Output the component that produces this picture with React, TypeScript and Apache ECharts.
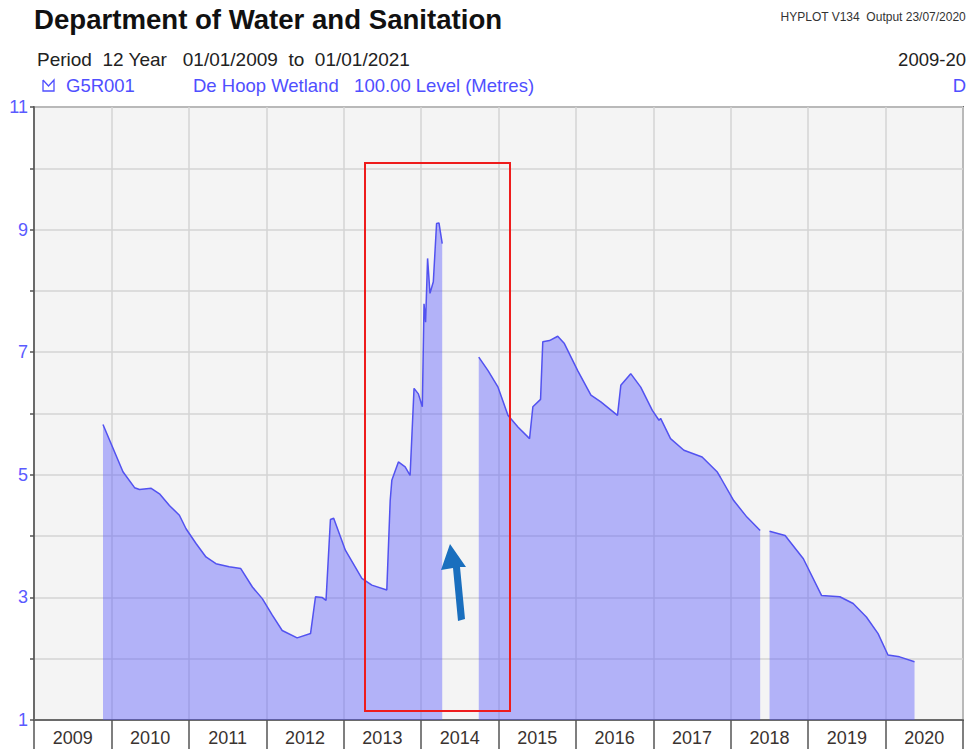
import React, { useEffect, useRef } from "react";
import * as echarts from "echarts";

// Fractional-year dates and water levels (metres); null marks a gap in the record
const dates: number[] = [
  2009.891, 2010.149, 2010.299, 2010.363, 2010.514, 2010.621, 2010.749, 2010.878, 2010.964,
  2011.093, 2011.221, 2011.350, 2011.521, 2011.671, 2011.821, 2011.949, 2012.078, 2012.206,
  2012.399, 2012.572, 2012.636, 2012.721, 2012.772, 2012.829, 2012.871, 2013.022, 2013.235,
  2013.364, 2013.557, 2013.601, 2013.622, 2013.707, 2013.794, 2013.858, 2013.909, 2013.965,
  2014.016, 2014.038, 2014.058, 2014.084, 2014.115, 2014.158, 2014.200, 2014.231, 2014.273,
  2014.5,
  2014.745, 2014.865, 2014.994, 2015.122, 2015.251, 2015.401, 2015.444, 2015.543, 2015.572,
  2015.659, 2015.765, 2015.851, 2016.023, 2016.194, 2016.322, 2016.537, 2016.580, 2016.708,
  2016.837, 2016.987, 2017.073, 2017.094, 2017.222, 2017.395, 2017.630, 2017.823, 2017.866,
  2018.038, 2018.209, 2018.380,
  2018.44,
  2018.501, 2018.702, 2018.938, 2019.174, 2019.409, 2019.581, 2019.752, 2019.903, 2020.031,
  2020.181, 2020.374,
];
const levels: (number | null)[] = [
  5.82, 5.05, 4.79, 4.76, 4.78, 4.69, 4.50, 4.34, 4.12,
  3.88, 3.66, 3.55, 3.50, 3.47, 3.17, 2.98, 2.71, 2.46,
  2.34, 2.41, 3.01, 3.00, 2.95, 4.27, 4.29, 3.77, 3.31,
  3.20, 3.12, 4.58, 4.91, 5.21, 5.13, 4.99, 6.41, 6.32,
  6.11, 7.79, 7.49, 8.53, 7.96, 8.15, 9.10, 9.11, 8.77,
  null,
  6.92, 6.70, 6.43, 5.97, 5.78, 5.59, 6.11, 6.23, 7.17,
  7.19, 7.26, 7.14, 6.70, 6.30, 6.19, 5.97, 6.46, 6.65,
  6.43, 6.05, 5.89, 5.92, 5.59, 5.40, 5.29, 5.05, 4.96,
  4.58, 4.31, 4.09,
  null,
  4.08, 4.01, 3.63, 3.03, 3.01, 2.90, 2.68, 2.41, 2.06,
  2.03, 1.95,
];

const yearStart = 2009;
const yearEnd = 2021;
const levelMin = 1;
const levelMax = 11;
const labelledLevels = [1, 3, 5, 7, 9, 11];

const FONT = "Liberation Sans, Arial, sans-serif";
const BLUE_TXT = "#4f4fff";

export default function App() {
  const ref = useRef<HTMLDivElement>(null);
  useEffect(() => {
    if (!ref.current) return;
    const chart = echarts.init(ref.current, null, { renderer: "svg" });
    const seriesData = dates.map((d, i) => [d, levels[i] === null ? "-" : levels[i]]);
    chart.setOption({
      animation: false,
      backgroundColor: "#ffffff",
      textStyle: { fontFamily: FONT },
      grid: {
        left: 34,
        right: 0,
        top: 107,
        bottom: 29,
        show: true,
        backgroundColor: "#f4f4f4",
        borderColor: "#6a6a6a",
        borderWidth: 2,
      },
      xAxis: [
        {
          type: "value",
          min: yearStart,
          max: yearEnd,
          interval: 1,
          axisLine: { show: true, lineStyle: { color: "#6a6a6a", width: 2 } },
          axisTick: { show: true, inside: false, length: 30, lineStyle: { color: "#555", width: 1.5 } },
          axisLabel: { show: false },
          splitLine: { show: true, lineStyle: { color: "#d4d4d4", width: 1.5 } },
        },
        {
          type: "value",
          min: yearStart,
          max: yearEnd,
          interval: 0.5,
          position: "bottom",
          axisLine: { show: false },
          axisTick: { show: false },
          splitLine: { show: false },
          axisLabel: {
            show: true,
            margin: 9,
            fontSize: 18,
            color: "#3a3330",
            fontFamily: FONT,
            showMinLabel: true,
            showMaxLabel: true,
            formatter: (v: number) => (Math.abs(v % 1 - 0.5) < 1e-6 ? String(Math.floor(v)) : ""),
          },
        },
      ],
      yAxis: {
        type: "value",
        min: levelMin,
        max: levelMax,
        interval: 1,
        axisLine: { show: true, lineStyle: { color: "#6a6a6a", width: 2 } },
        axisTick: { show: true, length: 4, lineStyle: { color: "#555", width: 1.5 } },
        axisLabel: {
          margin: 6,
          fontSize: 18,
          color: "#5a5aff",
          fontFamily: FONT,
          formatter: (v: number) => (labelledLevels.includes(v) ? String(v) : ""),
        },
        splitLine: { show: true, lineStyle: { color: "#d4d4d4", width: 1.5 } },
      },
      series: [
        {
          type: "line",
          xAxisIndex: 0,
          data: seriesData,
          showSymbol: false,
          connectNulls: false,
          lineStyle: { color: "#5252f0", width: 1.5 },
          areaStyle: { color: "rgba(80,80,255,0.4)", opacity: 1, origin: "start" },
        },
      ],
      graphic: [
        {
          type: "text",
          left: 34,
          top: 5,
          style: { text: "Department of Water and Sanitation", font: `bold 27.6px ${FONT}`, fill: "#111" },
        },
        {
          type: "text",
          right: 0,
          top: 11,
          style: { text: "HYPLOT V134  Output 23/07/2020", font: `12px ${FONT}`, fill: "#333" },
        },
        {
          type: "text",
          left: 37,
          top: 50,
          style: { text: "Period  12 Year   01/01/2009  to  01/01/2021", font: `19px ${FONT}`, fill: "#222" },
        },
        {
          type: "text",
          right: 0,
          top: 50,
          style: { text: "2009-20", font: `18.5px ${FONT}`, fill: "#222" },
        },
        {
          type: "polyline",
          shape: { points: [[43, 80], [43, 91], [54, 91], [54, 80], [48.5, 86], [43, 80]] },
          style: { stroke: BLUE_TXT, lineWidth: 1.3, fill: "none" },
        },
        {
          type: "text",
          left: 66,
          top: 76,
          style: { text: "G5R001", font: `18.5px ${FONT}`, fill: BLUE_TXT },
        },
        {
          type: "text",
          left: 193,
          top: 76,
          style: { text: "De Hoop Wetland   100.00 Level (Metres)", font: `18.5px ${FONT}`, fill: BLUE_TXT },
        },
        {
          type: "text",
          right: 0,
          top: 76,
          style: { text: "D", font: `18.5px ${FONT}`, fill: BLUE_TXT },
        },
        {
          type: "rect",
          shape: { x: 365, y: 163, width: 145, height: 548 },
          style: { stroke: "#ee1c1c", lineWidth: 2, fill: "none" },
          z: 10,
        },
        {
          type: "polygon",
          shape: {
            points: [
              [450, 544], [466, 567], [460, 567], [465, 619], [458, 621], [453, 568], [441, 570],
            ],
          },
          style: { fill: "#1a6fbe" },
          z: 10,
        },
      ],
    });
    return () => chart.dispose();
  }, []);
  return (
    <div
      ref={ref}
      style={{ position: "fixed", left: 0, top: 0, width: 966, height: 749 }}
    />
  );
}
